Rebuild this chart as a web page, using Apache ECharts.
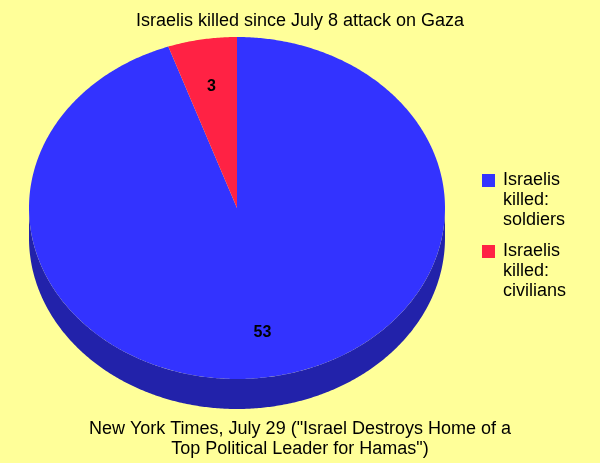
<!DOCTYPE html>
<html>
<head>
<meta charset="utf-8">
<script src="https://cdn.jsdelivr.net/npm/echarts@6/dist/echarts.min.js"></script>
<style>html,body{margin:0;padding:0;background:#FFFF99;}#c{width:600px;height:463px;}</style>
</head>
<body>
<div id="c"></div>
<script>
const categories = ['Israelis\nkilled:\nsoldiers', 'Israelis\nkilled:\ncivilians'];
const values = [53, 3];
const titleText = 'Israelis killed since July 8 attack on Gaza';
const sourceText = 'New York Times, July 29 ("Israel Destroys Home of a\nTop Political Leader for Hamas")';

const topColors = ['#3333FF', '#FF2244'];
const sideColors = ['#2222AA', '#AA1730'];
const FONT = '"Liberation Sans", Arial, sans-serif';

const total = values.reduce((a, b) => a + b, 0);
const geo = { cx: 237, cy: 208, rx: 208, ry: 171, depth: 30, labelFrac: 0.73, labelDy: 2 };

function pt(t, dy) {
  return [geo.cx + geo.rx * Math.sin(t), geo.cy - geo.ry * Math.cos(t) + (dy || 0)];
}
function arc(a0, a1, dy) {
  const pts = [];
  const n = Math.max(2, Math.ceil((a1 - a0) / (Math.PI / 360)));
  for (let i = 0; i <= n; i++) pts.push(pt(a0 + (a1 - a0) * i / n, dy));
  return pts;
}

function renderItem(params, api) {
  const idx = params.seriesIndex;
  let before = 0;
  for (let i = 0; i < idx; i++) before += values[i];
  const v = api.value(0);
  const start = before / total * Math.PI * 2;
  const end = (before + v) / total * Math.PI * 2;
  const children = [];
  const a0 = Math.max(start, Math.PI / 2), a1 = Math.min(end, Math.PI * 1.5);
  if (a1 > a0) {
    const topArc = arc(a0, a1, 0);
    const botArc = arc(a0, a1, geo.depth).reverse();
    children.push({ type: 'polygon', shape: { points: topArc.concat(botArc) }, style: { fill: sideColors[idx] } });
  }
  const face = [[geo.cx, geo.cy]].concat(arc(start, end, 0));
  children.push({ type: 'polygon', shape: { points: face }, style: { fill: api.visual('color') } });
  const mid = (start + end) / 2;
  const lp = [geo.cx + geo.rx * geo.labelFrac * Math.sin(mid), geo.cy - geo.ry * geo.labelFrac * Math.cos(mid) + geo.labelDy];
  children.push({ type: 'text', z2: 10, style: { text: String(v), x: lp[0], y: lp[1], align: 'center', verticalAlign: 'middle', fill: '#000', font: 'bold 16px ' + FONT } });
  return { type: 'group', children: children };
}

const chart = echarts.init(document.getElementById('c'), null, { renderer: 'canvas' });
const legendText = { fontFamily: FONT, fontSize: 18, color: '#000', lineHeight: 20, padding: [0, 0, 0, 3] };
const legendCommon = {
  orient: 'vertical', icon: 'rect', itemWidth: 13, itemHeight: 13, textStyle: legendText, selectedMode: false,
  formatter: name => '\n\n' + name
};
chart.setOption({
  backgroundColor: '#FFFF99',
  animation: false,
  title: [
    { text: titleText, left: 'center', top: 6, textStyle: { fontFamily: FONT, fontSize: 18, fontWeight: 'normal', color: '#000', lineHeight: 20 } },
    { text: sourceText, left: 'center', top: 414.5, textStyle: { fontFamily: FONT, fontSize: 18, fontWeight: 'normal', color: '#000', lineHeight: 20 } }
  ],
  legend: [
    Object.assign({ data: [categories[0]], left: 477, top: 125.5 }, legendCommon),
    Object.assign({ data: [categories[1]], left: 477, top: 196.5 }, legendCommon)
  ],
  series: categories.map((name, i) => ({
    type: 'custom',
    name: name,
    coordinateSystem: 'none',
    itemStyle: { color: topColors[i] },
    renderItem: renderItem,
    data: [[values[i]]]
  }))
});
</script>
</body>
</html>
